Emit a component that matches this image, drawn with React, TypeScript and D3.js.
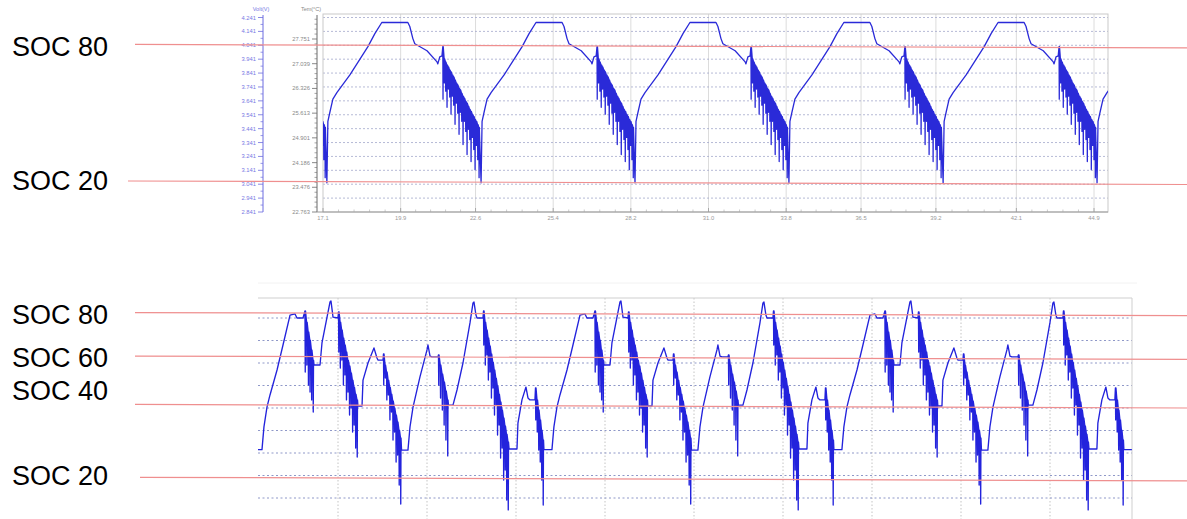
import React from "react";
import * as d3 from "d3";

// ---------------- Upper panel: cell voltage over test time (h) ----------------
const topTimeTicks = [17.1, 19.9, 22.6, 25.4, 28.2, 31.0, 33.8, 36.5, 39.2, 42.1, 44.9];
const voltTicks = [4.241, 4.141, 4.041, 3.941, 3.841, 3.741, 3.641, 3.541, 3.441, 3.341, 3.241, 3.141, 3.041, 2.941, 2.841];
const tempTicks = [27.751, 27.039, 26.326, 25.613, 24.901, 24.186, 23.476, 22.763];

// time of the end-of-discharge minimum that starts each cycle
const topCycleStarts = [11.69, 17.24, 22.8, 28.35, 33.9, 39.46, 45.01];
// charge / CV hold / rest after each minimum: [hours since minimum, volts]
const topChargeProfile: [number, number][] = [
  [0, 3.051], [0.036, 3.494], [0.108, 3.559], [0.216, 3.653], [0.36, 3.7], [0.83, 3.828],
  [1.48, 4.031], [1.73, 4.125], [1.98, 4.205], [2.92, 4.205], [2.99, 4.176], [3.1, 4.089],
  [3.17, 4.052], [3.61, 4.002], [3.97, 3.922], [4.0, 3.907], [4.07, 3.958], [4.15, 3.965],
];
// pulsed discharge: window (hours since minimum), rest and loaded voltage of each pulse
const topPulseWindow = [4.18, 5.48];
const topPulseRest = [
  4.031, 3.944, 3.922, 3.9, 3.886, 3.864, 3.849, 3.828, 3.813, 3.791, 3.77, 3.755, 3.733, 3.719,
  3.697, 3.675, 3.661, 3.639, 3.624, 3.603, 3.581, 3.566, 3.545, 3.53, 3.508, 3.494, 3.472, 3.45,
];
const topPulseLoad = [
  3.653, 3.77, 3.711, 3.595, 3.726, 3.668, 3.545, 3.675, 3.61, 3.472, 3.624, 3.552, 3.4, 3.559,
  3.494, 3.327, 3.494, 3.421, 3.255, 3.436, 3.363, 3.204, 3.378, 3.291, 3.146, 3.32, 3.218, 3.088,
];

// state-of-charge reference levels (volts at left and right end of each guide)
const topSoc = [
  { label: "SOC 80", left: 4.047, right: 4.022 },
  { label: "SOC 20", left: 3.064, right: 3.039 },
];

// ---------------- Lower panel: mixed partial-cycle profile ----------------
const bottomHourGrid = [10, 20, 30, 40, 50, 60, 70, 80, 90];
const bottomVoltGrid = [4.2, 4.1, 4.0, 3.9, 3.8, 3.7, 3.6, 3.5, 3.4, 3.3];
const bottomCycleStarts = [-31.12, 1.46, 34.04, 66.62];
// charge / rest stretches inside one block: [hours since block start, volts]
const bottomSegments: [number, number][][] = [
  [[0, 3.615], [0.22, 3.716], [0.56, 3.804], [0.9, 3.858], [1.69, 3.969], [2.36, 4.08], [3.15, 4.213], [3.71, 4.218], [3.93, 4.2], [4.61, 4.2]],
  [[5.85, 3.991], [6.52, 3.991], [6.74, 4.089], [7.64, 4.271], [7.75, 4.276], [7.98, 4.204], [8.54, 4.2]],
  [[10.78, 3.809], [11.24, 3.809], [11.35, 3.924], [11.91, 4.0], [12.58, 4.067], [12.92, 4.022], [13.03, 4.013], [13.6, 4.013]],
  [[15.68, 3.613], [16.4, 3.613], [16.63, 3.716], [16.97, 3.804], [17.75, 3.938], [18.54, 4.058], [18.65, 4.08], [18.88, 4.031], [19.1, 4.027], [19.78, 4.027]],
  [[20.95, 3.813], [21.46, 3.813], [21.91, 3.88], [22.58, 4.0], [23.37, 4.178], [23.71, 4.267], [23.82, 4.271], [24.04, 4.213], [24.16, 4.2], [24.83, 4.2]],
  [[27.76, 3.618], [28.65, 3.618], [28.76, 3.733], [29.21, 3.836], [29.66, 3.893], [29.89, 3.844], [30.11, 3.836], [30.67, 3.836]],
  [[31.68, 3.615], [32.58, 3.615]],
];
// pulsed discharges between the stretches above
const bottomPulseWindows = [[4.83, 5.73], [8.6, 10.67], [13.65, 15.56], [19.83, 20.84], [24.89, 27.64], [30.73, 31.57]];
const bottomPulseRest = [
  [4.231, 4.182, 4.138, 4.102, 4.058, 4.013],
  [4.227, 4.182, 4.147, 4.111, 4.08, 4.049, 4.013, 3.987, 3.956, 3.924, 3.893, 3.862, 3.836],
  [4.04, 3.991, 3.96, 3.924, 3.893, 3.862, 3.831, 3.8, 3.769, 3.738, 3.702, 3.667],
  [4.036, 3.991, 3.951, 3.916, 3.876, 3.836],
  [4.231, 4.182, 4.147, 4.111, 4.076, 4.04, 4.004, 3.969, 3.933, 3.898, 3.862, 3.827, 3.791, 3.756, 3.72, 3.684, 3.649],
  [3.889, 3.836, 3.791, 3.747, 3.702, 3.658],
];
const bottomPulseLoad = [
  [3.96, 3.991, 3.902, 3.871, 3.836, 3.782],
  [4.049, 3.978, 4.013, 3.902, 3.947, 3.836, 3.871, 3.769, 3.8, 3.693, 3.724, 3.622, 3.582],
  [3.902, 3.933, 3.836, 3.858, 3.747, 3.782, 3.658, 3.693, 3.56, 3.591, 3.458, 3.373],
  [3.902, 3.844, 3.791, 3.724, 3.658, 3.587],
  [4.08, 3.991, 4.036, 3.924, 3.96, 3.844, 3.889, 3.769, 3.813, 3.68, 3.724, 3.578, 3.622, 3.48, 3.524, 3.391, 3.347],
  [3.747, 3.693, 3.613, 3.56, 3.48, 3.369],
];
const bottomSoc = [
  { label: "SOC 80", left: 4.224, right: 4.211 },
  { label: "SOC 60", left: 4.031, right: 4.016 },
  { label: "SOC 40", left: 3.816, right: 3.8 },
  { label: "SOC 20", left: 3.492, right: 3.476 },
];

type P = [number, number];

function pushPulses(pts: P[], t0: number, win: number[], rest: number[], load: number[], eps: number) {
  const n = rest.length;
  rest.forEach((r, i) => {
    const t = t0 + win[0] + ((win[1] - win[0]) * i) / (n - 1);
    pts.push([t, r], [t + eps, load[i]], [t + 2 * eps, r]);
  });
}

function topSeries(): P[] {
  const pts: P[] = [];
  topCycleStarts.forEach((t0) => {
    topChargeProfile.forEach(([dt, v]) => pts.push([t0 + dt, v]));
    pushPulses(pts, t0, topPulseWindow, topPulseRest, topPulseLoad, 0.008);
  });
  return pts;
}

function bottomSeries(): P[] {
  const pts: P[] = [];
  bottomCycleStarts.forEach((t0) => {
    bottomSegments.forEach((seg, i) => {
      seg.forEach(([dt, v]) => pts.push([t0 + dt, v]));
      if (i < bottomPulseWindows.length) {
        pushPulses(pts, t0, bottomPulseWindows[i], bottomPulseRest[i], bottomPulseLoad[i], 0.03);
      }
    });
  });
  return pts;
}

const FONT = "'Liberation Sans', Arial, sans-serif";
const LABEL_FONT = "'Liberation Sans', Arial, sans-serif";

export default function App() {
  const W = 1187;
  const H = 519;

  // upper panel scales
  const tp = { left: 323, right: 1108, top: 14, bottom: 212 };
  const tx = d3.scaleLinear().domain([17.1, 44.9]).range([323, 1094]);
  const ty = d3.scaleLinear().domain([2.841, 4.241]).range([212, 17.5]);
  const tt = d3.scaleLinear().domain([22.763, 27.751]).range([212, 39]);

  // lower panel scales
  const bp = { left: 258, right: 1132, top: 298, bottom: 519 };
  const bx = d3.scaleLinear().domain([0, 100]).range([249, 1139]);
  const by = d3.scaleLinear().domain([3.3, 4.3]).range([520.5, 295.5]);

  const topPath = d3.line<P>().x((d) => tx(d[0])).y((d) => ty(d[1]))(topSeries()) || "";
  const botPath = d3.line<P>().x((d) => bx(d[0])).y((d) => by(d[1]))(bottomSeries()) || "";

  const voltMinor = voltTicks.slice(0, -1).map((v) => v - 0.05);
  const tempStep = tempTicks[0] - tempTicks[1];
  const tempMinor: number[] = [];
  tempTicks.slice(1).forEach((v) => {
    for (let k = 1; k < 5; k++) tempMinor.push(v + (tempStep * k) / 5);
  });
  for (let k = 1; k < 5; k++) tempMinor.push(tempTicks[0] + (tempStep * k) / 5);
  const timeMinor: number[] = [];
  topTimeTicks.slice(0, -1).forEach((v, i) => {
    const step = topTimeTicks[i + 1] - v;
    for (let k = 1; k < 5; k++) timeMinor.push(v + (step * k) / 5);
  });

  // left end of each SOC guide and label baseline offset from it
  const topGuideX = [135, 128];
  const topLabelDy = [11.5, 9];
  const botGuideX = [135, 135, 135, 140];
  const botLabelDy = [11.5, 10.5, -4, 7.7];

  return (
    <div style={{ position: "absolute", left: 0, top: 0 }}>
      <svg width={W} height={H} style={{ display: "block", background: "#fff" }}>
        <defs>
          <clipPath id="topClip">
            <rect x={tp.left} y={tp.top} width={tp.right - tp.left} height={tp.bottom - tp.top + 1} />
          </clipPath>
          <clipPath id="botClip">
            <rect x={bp.left} y={bp.top} width={bp.right - bp.left} height={bp.bottom - bp.top} />
          </clipPath>
        </defs>

        {/* ===== upper panel ===== */}
        {topTimeTicks.slice(1).map((t) => (
          <line key={"tv" + t} x1={tx(t)} x2={tx(t)} y1={tp.top} y2={tp.bottom} stroke="#dcdcdc" strokeWidth={1} />
        ))}
        {voltTicks.slice(0, -1).map((v) => (
          <line key={"th" + v} x1={tp.left} x2={tp.right} y1={ty(v)} y2={ty(v)} stroke="#a3a8cc" strokeWidth={0.8} strokeDasharray="2,2" />
        ))}
        <rect x={tp.left} y={tp.top} width={tp.right - tp.left} height={tp.bottom - tp.top} fill="none" stroke="#c9c9c9" strokeWidth={1} />

        {/* voltage axis */}
        <line x1={263} x2={263} y1={15} y2={212} stroke="#6d6de0" strokeWidth={1} />
        {voltTicks.map((v) => (
          <g key={"vt" + v}>
            <line x1={258} x2={263} y1={ty(v)} y2={ty(v)} stroke="#6d6de0" strokeWidth={0.8} />
            <text x={256} y={ty(v) + 2} fontSize={5.8} fontFamily={FONT} fill="#7878e4" textAnchor="end">
              {v.toFixed(3)}
            </text>
          </g>
        ))}
        {voltMinor.map((v) => (
          <line key={"vm" + v} x1={260.5} x2={263} y1={ty(v)} y2={ty(v)} stroke="#6d6de0" strokeWidth={0.7} />
        ))}
        <text x={261} y={11} fontSize={5.5} fontFamily={FONT} fill="#7878e4" textAnchor="middle">Volt(V)</text>

        {/* temperature axis */}
        <line x1={317} x2={317} y1={15} y2={212} stroke="#6a6a6a" strokeWidth={1} />
        {tempTicks.map((v) => (
          <g key={"tt" + v}>
            <line x1={312} x2={317} y1={tt(v)} y2={tt(v)} stroke="#6a6a6a" strokeWidth={0.8} />
            <text x={310} y={tt(v) + 2} fontSize={5.8} fontFamily={FONT} fill="#8a8a8a" textAnchor="end">
              {v.toFixed(3)}
            </text>
          </g>
        ))}
        {tempMinor.map((v, i) => (
          <line key={"tm" + i} x1={314.5} x2={317} y1={tt(v)} y2={tt(v)} stroke="#6a6a6a" strokeWidth={0.6} />
        ))}
        <text x={311} y={11} fontSize={5.5} fontFamily={FONT} fill="#8a8a8a" textAnchor="middle">Tem(°C)</text>

        {/* time axis */}
        <line x1={317} x2={tp.right} y1={212} y2={212} stroke="#9a9a9a" strokeWidth={1} />
        {topTimeTicks.map((t) => (
          <g key={"xt" + t}>
            <line x1={tx(t)} x2={tx(t)} y1={212} y2={208} stroke="#9a9a9a" strokeWidth={0.8} />
            <text x={tx(t)} y={219.5} fontSize={5.8} fontFamily={FONT} fill="#9a9a9a" textAnchor="middle">
              {t.toFixed(1)}
            </text>
          </g>
        ))}
        {timeMinor.map((t, i) => (
          <line key={"xm" + i} x1={tx(t)} x2={tx(t)} y1={212} y2={209.5} stroke="#a8a8a8" strokeWidth={0.6} />
        ))}

        <path d={topPath} clipPath="url(#topClip)" fill="none" stroke="#2a2ad8" strokeWidth={1.3} strokeLinejoin="round" />

        {/* ===== lower panel ===== */}
        <line x1={bp.left} x2={1137} y1={283} y2={283} stroke="#f2f2f2" strokeWidth={1} />
        {bottomHourGrid.map((t) => (
          <line key={"bv" + t} x1={bx(t)} x2={bx(t)} y1={bp.top} y2={bp.bottom} stroke="#bdbdbd" strokeWidth={0.9} strokeDasharray="1.5,2" />
        ))}
        {bottomVoltGrid.map((v) => (
          <line key={"bh" + v} x1={bp.left} x2={bp.right} y1={by(v)} y2={by(v)} stroke="#8f98c8" strokeWidth={1} strokeDasharray="2,2.5" />
        ))}
        <line x1={bp.left} x2={bp.right} y1={bp.top} y2={bp.top} stroke="#cfcfcf" strokeWidth={1} />
        <line x1={bp.right} x2={bp.right} y1={bp.top} y2={bp.bottom} stroke="#cfcfcf" strokeWidth={1} />

        <path d={botPath} clipPath="url(#botClip)" fill="none" stroke="#2323dc" strokeWidth={1.35} strokeLinejoin="round" />

        {/* ===== SOC guides ===== */}
        {topSoc.map((s, i) => (
          <g key={"ts" + s.label}>
            <line x1={topGuideX[i]} x2={W} y1={ty(s.left)} y2={ty(s.right)} stroke="#ef8f8f" strokeWidth={1.2} />
            <text x={12} y={ty(s.left) + topLabelDy[i]} fontSize={27} fontFamily={LABEL_FONT} fill="#000">
              {s.label}
            </text>
          </g>
        ))}
        {bottomSoc.map((s, i) => (
          <g key={"bs" + s.label}>
            <line x1={botGuideX[i]} x2={W} y1={by(s.left)} y2={by(s.right)} stroke="#ef8f8f" strokeWidth={1.2} />
            <text x={12} y={by(s.left) + botLabelDy[i]} fontSize={27} fontFamily={LABEL_FONT} fill="#000">
              {s.label}
            </text>
          </g>
        ))}
      </svg>
    </div>
  );
}
